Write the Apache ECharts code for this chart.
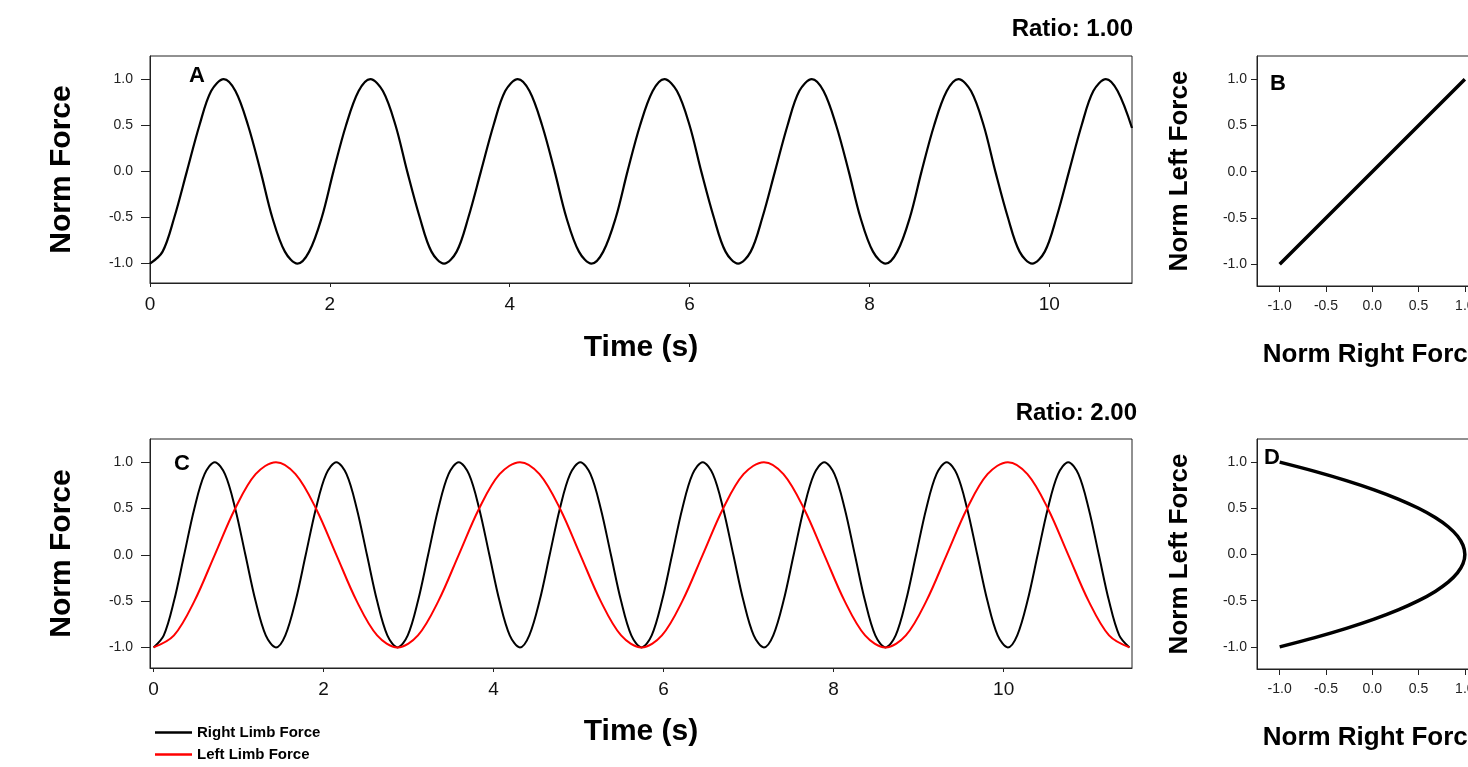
<!DOCTYPE html>
<html>
<head>
<meta charset="utf-8">
<script src="https://cdn.jsdelivr.net/npm/echarts@6/dist/echarts.min.js"></script>
<style>
html,body{margin:0;padding:0;background:#fff;}
#chart{width:1468px;height:767px;}
</style>
</head>
<body>
<div id="chart"></div>
<script>
// ---------- data ----------
// Panel A (Ratio 1.00): time (s) and normalised force
const timeA = [0.00,0.14,0.27,0.41,0.55,0.68,0.82,0.95,1.09,1.23,1.36,1.50,
               1.64,1.77,1.91,2.04,2.18,2.32,2.45,2.59,2.73,2.86,3.00,3.13,
               3.27,3.41,3.54,3.68,3.82,3.95,4.09,4.22,4.36,4.50,4.63,4.77,
               4.91,5.04,5.18,5.31,5.45,5.59,5.72,5.86,6.00,6.13,6.27,6.40,
               6.54,6.68,6.81,6.95,7.09,7.22,7.36,7.49,7.63,7.77,7.90,8.04,
               8.18,8.31,8.45,8.58,8.72,8.86,8.99,9.13,9.27,9.40,9.54,9.67,
               9.81,9.95,10.08,10.22,10.36,10.49,10.63,10.76,10.92];
const forceA = [-1,-0.87,-0.5,0,0.5,0.87,1,0.87,0.5,0,-0.5,-0.87,
                -1,-0.87,-0.5,0,0.5,0.87,1,0.87,0.5,0,-0.5,-0.87,
                -1,-0.87,-0.5,0,0.5,0.87,1,0.87,0.5,0,-0.5,-0.87,
                -1,-0.87,-0.5,0,0.5,0.87,1,0.87,0.5,0,-0.5,-0.87,
                -1,-0.87,-0.5,0,0.5,0.87,1,0.87,0.5,0,-0.5,-0.87,
                -1,-0.87,-0.5,0,0.5,0.87,1,0.87,0.5,0,-0.5,-0.87,
                -1,-0.87,-0.5,0,0.5,0.87,1,0.87,0.47];

// Panel B: right vs left normalised force
const rightB = [-1,-0.5,0,0.5,1];
const leftB  = [-1,-0.5,0,0.5,1];

// Panel C (Ratio 2.00): right limb (black) and left limb (red)
const timeCR = [0.00,0.12,0.24,0.36,0.48,0.60,0.72,0.84,0.96,1.08,1.20,1.32,
                1.44,1.55,1.67,1.79,1.91,2.03,2.15,2.27,2.39,2.51,2.63,2.75,
                2.87,2.99,3.11,3.23,3.35,3.47,3.59,3.71,3.83,3.95,4.07,4.19,
                4.31,4.42,4.54,4.66,4.78,4.90,5.02,5.14,5.26,5.38,5.50,5.62,
                5.74,5.86,5.98,6.10,6.22,6.34,6.46,6.58,6.70,6.82,6.94,7.06,
                7.18,7.29,7.41,7.53,7.65,7.77,7.89,8.01,8.13,8.25,8.37,8.49,
                8.61,8.73,8.85,8.97,9.09,9.21,9.33,9.45,9.57,9.69,9.81,9.93,
                10.05,10.16,10.28,10.40,10.52,10.64,10.76,10.88,11.00,11.12,11.24,11.36,
                11.48];
const rightC = [-1,-0.87,-0.5,0,0.5,0.87,1,0.87,0.5,0,-0.5,-0.87,
                -1,-0.87,-0.5,0,0.5,0.87,1,0.87,0.5,0,-0.5,-0.87,
                -1,-0.87,-0.5,0,0.5,0.87,1,0.87,0.5,0,-0.5,-0.87,
                -1,-0.87,-0.5,0,0.5,0.87,1,0.87,0.5,0,-0.5,-0.87,
                -1,-0.87,-0.5,0,0.5,0.87,1,0.87,0.5,0,-0.5,-0.87,
                -1,-0.87,-0.5,0,0.5,0.87,1,0.87,0.5,0,-0.5,-0.87,
                -1,-0.87,-0.5,0,0.5,0.87,1,0.87,0.5,0,-0.5,-0.87,
                -1,-0.87,-0.5,0,0.5,0.87,1,0.87,0.5,0,-0.5,-0.87,
                -1];
const timeCL = [0.00,0.24,0.48,0.72,0.96,1.20,1.44,1.67,1.91,2.15,2.39,2.63,
                2.87,3.11,3.35,3.59,3.83,4.07,4.31,4.54,4.78,5.02,5.26,5.50,
                5.74,5.98,6.22,6.46,6.70,6.94,7.18,7.41,7.65,7.89,8.13,8.37,
                8.61,8.85,9.09,9.33,9.57,9.81,10.05,10.28,10.52,10.76,11.00,11.24,
                11.48];
const leftC  = [-1,-0.87,-0.5,0,0.5,0.87,1,0.87,0.5,0,-0.5,-0.87,
                -1,-0.87,-0.5,0,0.5,0.87,1,0.87,0.5,0,-0.5,-0.87,
                -1,-0.87,-0.5,0,0.5,0.87,1,0.87,0.5,0,-0.5,-0.87,
                -1,-0.87,-0.5,0,0.5,0.87,1,0.87,0.5,0,-0.5,-0.87,
                -1];

// Panel D
const leftD  = [-1,-0.9,-0.8,-0.7,-0.6,-0.5,-0.4,-0.3,-0.2,-0.1,0,0.1,0.2,0.3,0.4,0.5,0.6,0.7,0.8,0.9,1];
const rightD = [-1,-0.62,-0.28,0.02,0.28,0.5,0.68,0.82,0.92,0.98,1,0.98,0.92,0.82,0.68,0.5,0.28,0.02,-0.28,-0.62,-1];

// tick labels and texts
const timeTicks = [0,2,4,6,8,10];
const forceTicks = [-1,-0.5,0,0.5,1];
const panelLetters = ['A','B','C','D'];
const ratioLabels = ['Ratio: 1.00','Ratio: 2.00'];
const legendNames = ['Right Limb Force','Left Limb Force'];

// ---------- chart ----------
const FONT = '"Liberation Sans", Arial, sans-serif';
const AX = '#222';
const SMOOTH = 0.34;
const zip = (a,b) => a.map((v,i) => [v, b[i]]);
const fmt1 = v => Number(v).toFixed(1);

function timeAxis(grid, min, max, name, gap) {
  return {
    type:'value', gridIndex:grid, min:min, max:max,
    name:name, nameLocation:'middle', nameGap:gap,
    nameTextStyle:{fontFamily:FONT, fontWeight:'bold', fontSize:30, color:'#000'},
    axisLine:{show:true, onZero:false, lineStyle:{color:AX, width:1}},
    axisTick:{show:true, inside:false, length:4, customValues:timeTicks, lineStyle:{color:AX}},
    axisLabel:{fontFamily:FONT, fontSize:19, color:'#111', margin:12, customValues:timeTicks},
    splitLine:{show:false}
  };
}
function forceAxis(grid, min, max, name, gap, nameSize, tickLen, labMargin) {
  return {
    type:'value', gridIndex:grid, min:min, max:max,
    name:name, nameLocation:'middle', nameGap:gap, nameRotate:90,
    nameTextStyle:{fontFamily:FONT, fontWeight:'bold', fontSize:nameSize, color:'#000'},
    axisLine:{show:true, onZero:false, lineStyle:{color:AX, width:1}},
    axisTick:{show:true, inside:false, length:tickLen, customValues:forceTicks, lineStyle:{color:AX}},
    axisLabel:{fontFamily:FONT, fontSize:14, color:'#222', margin:labMargin, customValues:forceTicks, formatter:fmt1},
    splitLine:{show:false}
  };
}
function normXAxis(grid) {
  return {
    type:'value', gridIndex:grid, min:-1.245, max:1.25,
    name:'Norm Right Force', nameLocation:'middle', nameGap:56,
    nameTextStyle:{fontFamily:FONT, fontWeight:'bold', fontSize:26, color:'#000'},
    axisLine:{show:true, onZero:false, lineStyle:{color:AX, width:1}},
    axisTick:{show:true, inside:false, length:6, customValues:forceTicks, lineStyle:{color:AX}},
    axisLabel:{fontFamily:FONT, fontSize:14, color:'#222', margin:13, customValues:forceTicks, formatter:fmt1},
    splitLine:{show:false}
  };
}

const gridStyle = {show:true, borderColor:AX, borderWidth:1, backgroundColor:'transparent', containLabel:false, outerBoundsMode:'none'};

const option = {
  backgroundColor:'#fff',
  animation:false,
  grid:[
    Object.assign({left:150, top:56, width:982, height:227}, gridStyle),
    Object.assign({left:1257, top:56, width:231, height:230}, gridStyle),
    Object.assign({left:150, top:439, width:982, height:229}, gridStyle),
    Object.assign({left:1257, top:439, width:231, height:230}, gridStyle)
  ],
  xAxis:[
    timeAxis(0, 0, 10.92, 'Time (s)', 50),
    normXAxis(1),
    timeAxis(2, -0.042, 11.51, 'Time (s)', 49),
    normXAxis(3)
  ],
  yAxis:[
    forceAxis(0, -1.21, 1.25, 'Norm Force', 73, 30, 9, 17),
    forceAxis(1, -1.235, 1.25, 'Norm Left Force', 64, 26, 6, 10),
    forceAxis(2, -1.222, 1.25, 'Norm Force', 73, 30, 9, 17),
    forceAxis(3, -1.24, 1.25, 'Norm Left Force', 64, 26, 6, 10)
  ],
  legend:{
    orient:'vertical', left:155, top:725, padding:0, itemWidth:37, itemHeight:2.5, itemGap:7,
    icon:'rect', selectedMode:false,
    textStyle:{fontFamily:FONT, fontWeight:'bold', fontSize:15, color:'#000'},
    data:legendNames
  },
  series:[
    {name:'Force A', type:'line', xAxisIndex:0, yAxisIndex:0, data:zip(timeA, forceA),
     smooth:SMOOTH, showSymbol:false, symbol:'none', lineStyle:{color:'#000', width:2.2}, itemStyle:{color:'#000'}},
    {name:'Force B', type:'line', xAxisIndex:1, yAxisIndex:1, data:zip(rightB, leftB),
     showSymbol:false, symbol:'none', lineStyle:{color:'#000', width:3.5}, itemStyle:{color:'#000'}},
    {name:legendNames[0], type:'line', xAxisIndex:2, yAxisIndex:2, data:zip(timeCR, rightC),
     smooth:SMOOTH, showSymbol:false, symbol:'none', lineStyle:{color:'#000', width:2}, itemStyle:{color:'#000'}},
    {name:legendNames[1], type:'line', xAxisIndex:2, yAxisIndex:2, data:zip(timeCL, leftC),
     smooth:SMOOTH, showSymbol:false, symbol:'none', lineStyle:{color:'#ff0000', width:2}, itemStyle:{color:'#ff0000'}},
    {name:'Force D', type:'line', xAxisIndex:3, yAxisIndex:3, data:zip(rightD, leftD),
     smooth:SMOOTH, showSymbol:false, symbol:'none', lineStyle:{color:'#000', width:3.5}, itemStyle:{color:'#000'}}
  ],
  graphic:[
    {type:'text', x:1133, y:29, style:{text:ratioLabels[0], align:'right', verticalAlign:'middle', fontFamily:FONT, fontWeight:'bold', fontSize:24, fill:'#000'}},
    {type:'text', x:1137, y:413, style:{text:ratioLabels[1], align:'right', verticalAlign:'middle', fontFamily:FONT, fontWeight:'bold', fontSize:24, fill:'#000'}},
    {type:'text', x:197, y:76, style:{text:panelLetters[0], align:'center', verticalAlign:'middle', fontFamily:FONT, fontWeight:'bold', fontSize:22, fill:'#000'}},
    {type:'text', x:1278, y:84, style:{text:panelLetters[1], align:'center', verticalAlign:'middle', fontFamily:FONT, fontWeight:'bold', fontSize:22, fill:'#000'}},
    {type:'text', x:182, y:464, style:{text:panelLetters[2], align:'center', verticalAlign:'middle', fontFamily:FONT, fontWeight:'bold', fontSize:22, fill:'#000'}},
    {type:'text', x:1272, y:458, style:{text:panelLetters[3], align:'center', verticalAlign:'middle', fontFamily:FONT, fontWeight:'bold', fontSize:22, fill:'#000'}}
  ]
};

const chart = echarts.init(document.getElementById('chart'), null, {renderer:'canvas'});
chart.setOption(option);
</script>
</body>
</html>
